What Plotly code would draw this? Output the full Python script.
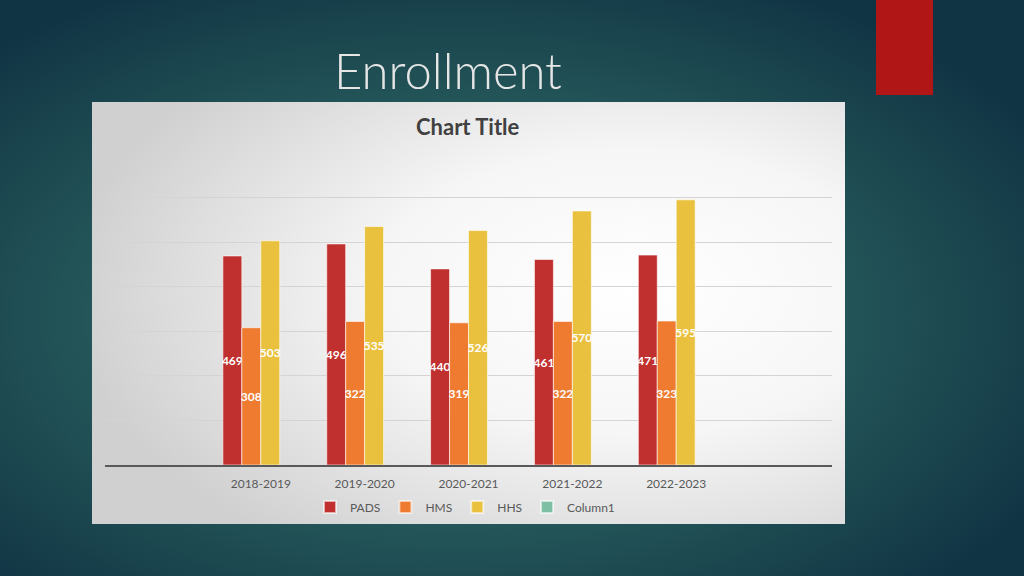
import base64
import plotly.graph_objects as go

categories = ["2018-2019", "2019-2020", "2020-2021", "2021-2022", "2022-2023"]
pads = [469, 496, 440, 461, 471]
hms = [308, 322, 319, 322, 323]
hhs = [503, 535, 526, 570, 595]
column1 = [None, None, None, None, None]

series = [
    ("PADS", pads, "#C0302F"),
    ("HMS", hms, "#EE7B30"),
    ("HHS", hhs, "#E9C13F"),
    ("Column1", column1, "#7DBFA5"),
]

W, H = 1024, 576

def svg_uri(svg):
    return "data:image/svg+xml;base64," + base64.b64encode(svg.encode()).decode()

slide_svg = f'''<svg xmlns="http://www.w3.org/2000/svg" width="{W}" height="{H}" viewBox="0 0 {W} {H}">
<defs><radialGradient id="g" cx="0.45" cy="0.55" r="0.65">
<stop offset="0" stop-color="#34716C"/>
<stop offset="0.55" stop-color="#245759"/>
<stop offset="1" stop-color="#113444"/>
</radialGradient></defs>
<rect width="{W}" height="{H}" fill="url(#g)"/>
</svg>'''

panel_svg = f'''<svg xmlns="http://www.w3.org/2000/svg" width="753" height="422" viewBox="0 0 753 422">
<defs><radialGradient id="p" cx="0.72" cy="0.45" r="0.75">
<stop offset="0" stop-color="#FFFFFF"/>
<stop offset="0.45" stop-color="#F6F6F6"/>
<stop offset="1" stop-color="#D0D0D0"/>
</radialGradient></defs>
<rect width="753" height="422" fill="url(#p)"/>
</svg>'''

fig = go.Figure()
for name, vals, color in series:
    fig.add_trace(go.Bar(
        x=categories, y=vals, name=name,
        marker=dict(color=color, line=dict(color="rgba(255,255,255,0.6)", width=1)),
        text=[("" if v is None else str(v)) for v in vals],
        textposition="inside", insidetextanchor="middle", textangle=0,
        constraintext="none",
        textfont=dict(family="Lato", size=12, color="white", weight="bold"),
        hoverinfo="skip",
    ))

fig.update_layout(
    width=W, height=H,
    paper_bgcolor="#1E4C52",
    plot_bgcolor="rgba(0,0,0,0)",
    margin=dict(l=105, r=192, t=153, b=111),
    barmode="group", bargap=0.27, bargroupgap=0,
    showlegend=True,
    legend=dict(orientation="h", x=0.4952, xanchor="center", y=-0.088, yanchor="top",
                font=dict(family="Lato", size=12, color="#595959"),
                bgcolor="rgba(0,0,0,0)", traceorder="normal",
                itemsizing="constant"),
    font=dict(family="Lato"),
    images=[
        dict(source=svg_uri(slide_svg), xref="paper", yref="paper",
             x=-105/727, y=1 + 153/312, sizex=W/727, sizey=H/312,
             sizing="stretch", layer="below", xanchor="left", yanchor="top"),
        dict(source=svg_uri(panel_svg), xref="paper", yref="paper",
             x=(92-105)/727, y=(465-102)/312, sizex=753/727, sizey=422/312,
             sizing="stretch", layer="below", xanchor="left", yanchor="top"),
    ],
    shapes=[
        dict(type="rect", xref="paper", yref="paper",
             x0=(876-105)/727, x1=(933-105)/727, y0=(465-95)/312, y1=(465+5)/312,
             fillcolor="#B01616", line=dict(width=0), layer="above"),
    ],
    annotations=[
        dict(text="Enrollment", xref="paper", yref="paper",
             x=(448-105)/727, y=(465-70)/312, xanchor="center", yanchor="middle",
             showarrow=False, font=dict(family="Lato", size=49, color="#E6E6E6", weight=300)),
        dict(text="<b>Chart Title</b>", xref="paper", yref="paper",
             x=(468-105)/727, y=(465-126)/312, xanchor="center", yanchor="middle",
             showarrow=False, font=dict(family="Lato", size=22, color="#404040")),
    ],
)

fig.update_xaxes(range=[-1.5, 5.5], showgrid=False, showline=True, linecolor="#595959",
                 linewidth=2, ticks="", ticklabelstandoff=7,
                 tickfont=dict(family="Lato", size=12, color="#595959"),
                 fixedrange=True)
fig.update_yaxes(range=[0, 700], dtick=100, showgrid=True, gridcolor="#D4D4D4", gridwidth=1,
                 showticklabels=False, zeroline=False, showline=False, fixedrange=True)

fig.write_html("out.html", config={"displayModeBar": False, "staticPlot": True},
               post_script="document.body.style.margin='0';document.body.style.overflow='hidden';")
